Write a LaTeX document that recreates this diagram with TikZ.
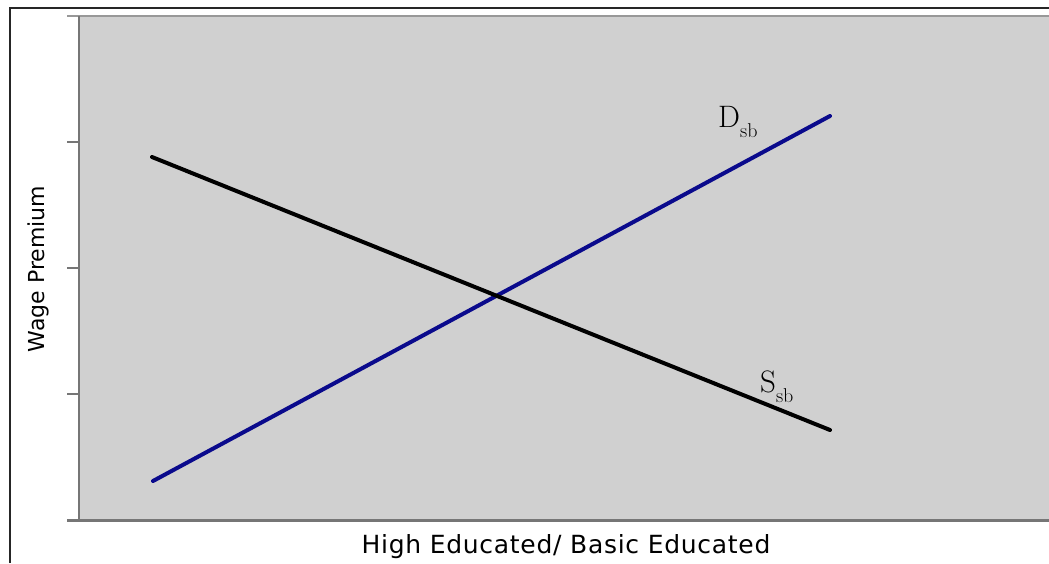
\documentclass[tikz,border=0pt]{standalone}
\usepackage{fontspec}
\newfontfamily\labelfont{DejaVu Sans}
\newfontfamily\xlabelfont[LetterSpace=2.8]{DejaVu Sans}
\definecolor{plotgray}{RGB}{208,208,208}
\definecolor{axisgray}{RGB}{118,118,118}
\definecolor{navyline}{RGB}{10,10,140}

\begin{document}
\begin{tikzpicture}[x=1pt, y=-1pt, line cap=round,
  curvelbl/.style={anchor=base west, inner sep=0pt, font=\fontsize{31}{36}\selectfont},
  axislbl/.style={inner sep=0pt, font=\labelfont\fontsize{22}{26}\selectfont}]
\useasboundingbox (0,0) rectangle (1049,563);
\fill[white] (0,0) rectangle (1049,563);

% ----------------------------------------------------
% Frame and plot area
% ----------------------------------------------------
\draw[line width=1.5pt, black!85, line cap=butt] (10,563) -- (10,8) -- (1049,8);

\fill[plotgray] (79,16) rectangle (1049,520);
\draw[axisgray!75, line width=2pt, line cap=butt] (67,16) -- (1049,16);
\draw[axisgray, line width=2.5pt, line cap=butt] (79,16) -- (79,520);
\draw[axisgray, line width=3pt, line cap=butt] (67,520) -- (1049,520);
\foreach \ty in {142,268,394}
  \draw[axisgray, line width=1.5pt, line cap=butt] (67,\ty) -- (79,\ty);

% ----------------------------------------------------
% Curves
% ----------------------------------------------------
\coordinate (d0) at (153,481);
\coordinate (d1) at (830,116);
\coordinate (s0) at (152,157);
\coordinate (s1) at (830,430);

\draw[line width=4pt, navyline] (d0) -- (d1);
\draw[line width=4pt, black] (s0) -- (s1);

\node[curvelbl] (dlab) at (718,127) {D\raisebox{-10pt}{\fontsize{20}{24}\selectfont sb}};
\node[curvelbl] (slab) at (760,392) {S\raisebox{-10pt}{\fontsize{20}{24}\selectfont sb}};

% ----------------------------------------------------
% Axis labels
% ----------------------------------------------------
\node[axislbl, rotate=90] (ylab) at (38,269) {Wage Premium};
\node[axislbl, anchor=base, font=\xlabelfont\fontsize{25}{30}\selectfont] (xlab) at (566,553) {High Educated/ Basic Educated};

\end{tikzpicture}
\end{document}
